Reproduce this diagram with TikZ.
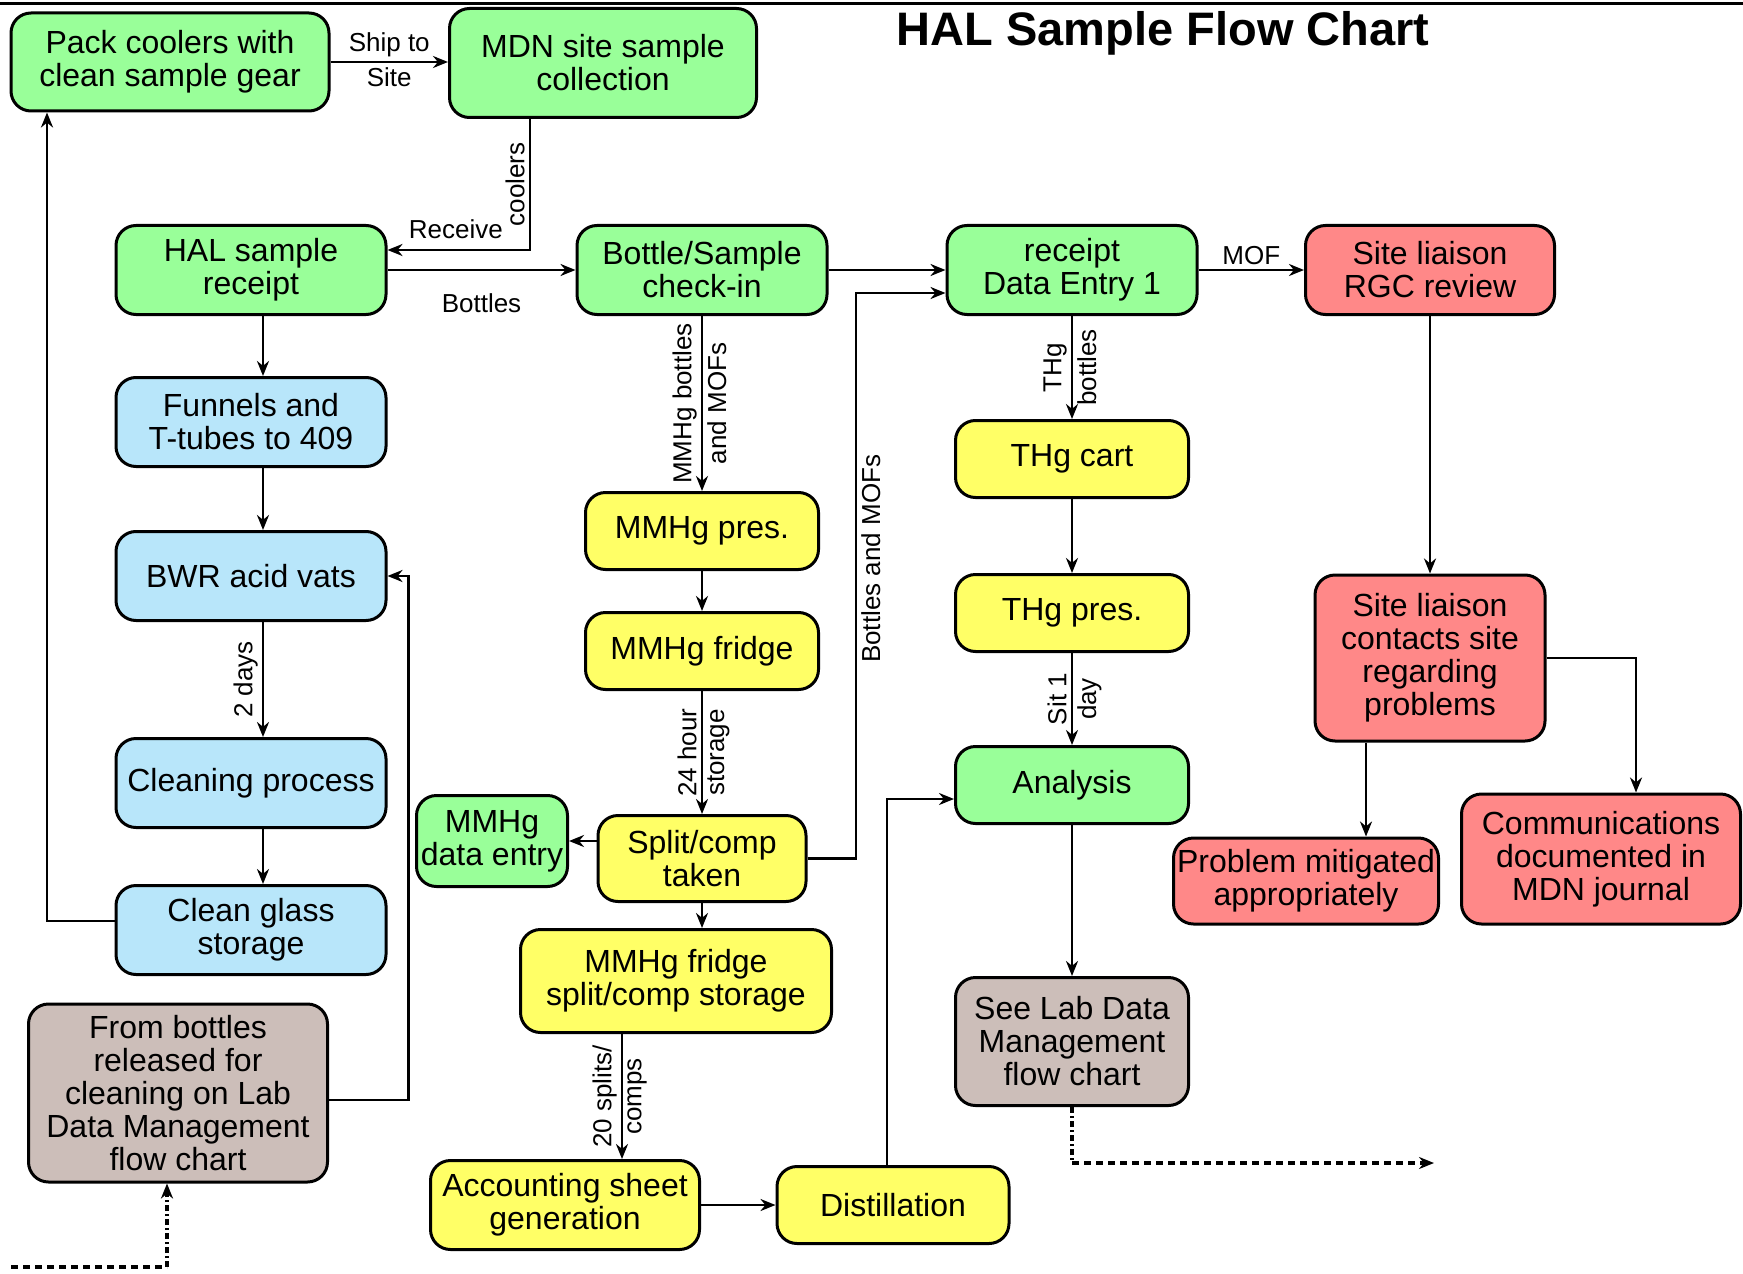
\documentclass[tikz,border=0pt]{standalone}
\usepackage{fontspec}
\setmainfont{Liberation Sans}
\usepackage{xcolor}
\usetikzlibrary{arrows.meta,positioning}
\definecolor{boxgreen}{RGB}{153,255,153}
\definecolor{boxblue}{RGB}{184,230,250}
\definecolor{boxyellow}{RGB}{255,255,102}
\definecolor{boxred}{RGB}{255,136,136}
\definecolor{boxbrown}{RGB}{204,190,185}

\begin{document}
\begin{tikzpicture}[x=0.5pt,y=-0.5pt,>={Stealth[length=7.5pt,width=6pt]},line width=1.35pt]
	\tikzstyle{box}=[draw,rounded corners=10pt,line width=1.5pt,align=center,inner sep=1pt,font=\fontsize{16}{16.5}\selectfont]
	\tikzstyle{greenbox}=[box,fill=boxgreen]
	\tikzstyle{bluebox}=[box,fill=boxblue,minimum width=135pt,minimum height=44.5pt]
	\tikzstyle{yellowbox}=[box,fill=boxyellow]
	\tikzstyle{redbox}=[box,fill=boxred]
	\tikzstyle{brownbox}=[box,fill=boxbrown]
	\tikzstyle{lbl}=[font=\fontsize{13}{14}\selectfont,inner sep=2pt]
	\tikzstyle{lleft}=[lbl,rotate=90,anchor=south]
	\tikzstyle{lright}=[lbl,rotate=90,anchor=north]
	\tikzstyle{dotline}=[line width=1.6pt,dash pattern=on 3.5pt off 2.5pt]
	\tikzstyle{dashdotline}=[line width=1.6pt,dash pattern=on 3pt off 1.5pt on 1pt off 1.5pt]
	\useasboundingbox (0,0) rectangle (1743,1273);
	\draw[line width=1.5pt] (0,4) -- (1743,4);
	\node[font=\bfseries\fontsize{23.5}{26}\selectfont] (title) at (1163,33) {HAL Sample Flow Chart};
	% top row
	\node[greenbox,minimum width=159pt,minimum height=49pt] (pack) at (170,62) {Pack coolers with\\clean sample gear};
	\node[greenbox,minimum width=153.5pt,minimum height=54.5pt] (mdn) at (603,63) {MDN site sample\\collection};
	% cleaning column
	\node[greenbox,minimum width=135pt,minimum height=44.5pt] (halrec) at (251,270) {HAL sample\\receipt};
	\node[bluebox,below=30pt of halrec] (funnels) {Funnels and\\T-tubes to 409};
	\node[bluebox,below=31pt of funnels] (bwr) {BWR acid vats};
	\node[bluebox,below=57.5pt of bwr] (cleaning) {Cleaning process};
	\node[bluebox,below=27.5pt of cleaning] (glass) {Clean glass\\storage};
	\node[brownbox,minimum width=149.5pt,minimum height=89pt] (fromb) at (178,1093) {From bottles\\released for\\cleaning on Lab\\Data Management\\flow chart};
	% MMHg column
	\node[greenbox,minimum width=125pt,minimum height=44.5pt] (bottle) at (702,270) {Bottle/Sample\\check-in};
	\node[yellowbox,minimum width=116.5pt,minimum height=38.5pt,below=87.5pt of bottle] (mmpres) {MMHg pres.};
	\node[yellowbox,minimum width=116.5pt,minimum height=38.5pt,below=20pt of mmpres] (mmfridge) {MMHg fridge};
	\node[yellowbox,minimum width=104pt,minimum height=43pt,below=61.5pt of mmfridge] (split) {Split/comp\\taken};
	\node[greenbox,minimum width=75.5pt,minimum height=45.5pt] (mmentry) at (492,841) {MMHg\\data entry};
	\node[yellowbox,minimum width=155.5pt,minimum height=51.5pt] (storage) at (676,981) {MMHg fridge\\split/comp storage};
	\node[yellowbox,minimum width=134.5pt,minimum height=44.5pt] (account) at (565,1205) {Accounting sheet\\generation};
	\node[yellowbox,minimum width=116pt,minimum height=38.5pt] (distill) at (893,1205) {Distillation};
	% THg column
	\node[greenbox,minimum width=125pt,minimum height=44.5pt] (receipt) at (1072,270) {receipt\\Data Entry 1};
	\node[yellowbox,minimum width=116.5pt,minimum height=38.5pt,below=51.5pt of receipt] (thgcart) {THg cart};
	\node[yellowbox,minimum width=116.5pt,minimum height=38.5pt,below=37pt of thgcart] (thgpres) {THg pres.};
	\node[greenbox,minimum width=116.5pt,minimum height=38.5pt,below=46pt of thgpres] (analysis) {Analysis};
	\node[brownbox,minimum width=116.5pt,minimum height=64pt,below=75.5pt of analysis] (seelab) {See Lab Data\\Management\\flow chart};
	% site liaison
	\node[redbox,minimum width=124.5pt,minimum height=44.5pt] (rgc) at (1430,270) {Site liaison\\RGC review};
	\node[redbox,minimum width=115pt,minimum height=83pt] (contacts) at (1430,658) {Site liaison\\contacts site\\regarding\\problems};
	\node[redbox,minimum width=132.5pt,minimum height=43pt] (problem) at (1306,881) {Problem mitigated\\appropriately};
	\node[redbox,minimum width=139.5pt,minimum height=65pt] (comm) at (1601,859) {Communications\\documented in\\MDN journal};
	% free ends and turns
	\coordinate (mdnout) at ([xshift=-36.5pt]mdn.south);
	\coordinate (bmturn) at (856,293);
	\coordinate (sa) at ([xshift=-27pt]storage.south);
	\coordinate (cp) at ([xshift=-32pt]contacts.south);
	\coordinate (lstart) at (11,1267);
	\coordinate (lcorner) at (167,1267);
	\coordinate (rend) at (1434,1163);
	\coordinate (rcorner) at (seelab.south |- rend);
	% connectors
	\draw[->] (pack.east) -- node[lbl,above]{Ship to} node[lbl,below]{Site} (pack.east -| mdn.west);
	\draw[->] (mdnout) |- node[lleft,pos=0.25]{coolers} node[lbl,pos=0.76,above=3pt]{Receive} ([yshift=10pt]halrec.east);
	\draw[->] (halrec) -- node[lbl,below=9pt]{Bottles} (bottle);
	\draw[->] (bottle) -- (receipt);
	\draw[->] (receipt) -- node[lbl,above]{MOF} (rgc);
	\draw[->] ([xshift=6pt]halrec.south) -- ([xshift=6pt]funnels.north);
	\draw[->] ([xshift=6pt]funnels.south) -- ([xshift=6pt]bwr.north);
	\draw[->] ([xshift=6pt]bwr.south) -- node[lleft,midway]{2 days} ([xshift=6pt]cleaning.north);
	\draw[->] ([xshift=6pt]cleaning.south) -- ([xshift=6pt]glass.north);
	\draw[->] ([yshift=4.5pt]glass.west) -| ([xshift=-61.5pt]pack.south);
	\draw[->] ([yshift=-3.5pt]fromb.east) -| ([xshift=10.5pt]bwr.east) -- (bwr.east);
	\draw[->] (bottle) -- node[lleft,midway]{MMHg bottles} node[lright,midway]{and MOFs} (mmpres);
	\draw[->] (mmpres) -- (mmfridge);
	\draw[->] (mmfridge) -- node[lleft,midway]{24 hour} node[lright,midway]{storage} (split);
	\draw[->] (split.west |- mmentry.east) -- (mmentry.east);
	\draw[->] (split.south) -- (split.south |- storage.north);
	\draw[->] (sa) -- node[lleft,midway]{20 splits/} node[lright,midway]{comps} (sa |- account.north);
	\draw[->] (account) -- (distill);
	\draw[->] ([xshift=-3pt]distill.north) |- ([yshift=-7pt]analysis.west);
	\draw[->] (split.east) -| node[lright,pos=0.765]{Bottles and MOFs} (bmturn) -- (bmturn -| receipt.west);
	\draw[->] (receipt) -- node[lleft,midway]{THg} node[lright,midway]{bottles} (thgcart);
	\draw[->] (thgcart) -- (thgpres);
	\draw[->] (thgpres) -- node[lleft,midway]{Sit 1} node[lright,midway]{day} (analysis);
	\draw[->] (analysis) -- (seelab);
	\draw[->] (rgc) -- (contacts);
	\draw[->] (cp) -- (cp |- problem.north);
	\draw[->] (contacts.east) -| ([xshift=17.5pt]comm.north);
	\draw[dotline] (lstart) -- (lcorner);
	\draw[dashdotline,->] (lcorner) -- (lcorner |- fromb.south);
	\draw[dashdotline] (seelab.south) -- (rcorner);
	\draw[dotline,->] (rcorner) -- (rend);
\end{tikzpicture}
\end{document}
